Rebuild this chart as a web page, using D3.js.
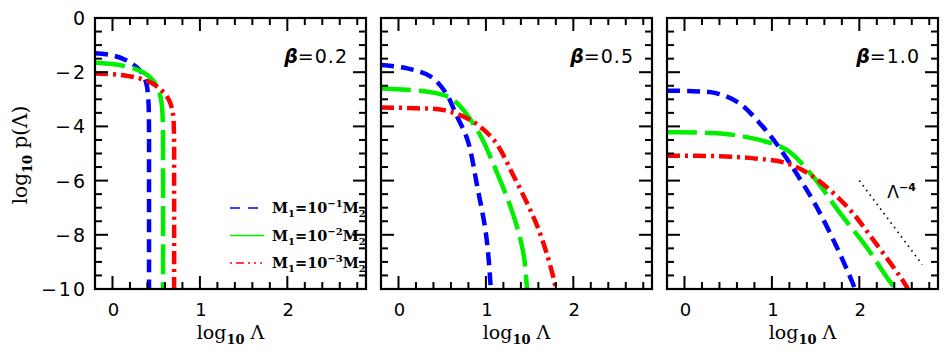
<!DOCTYPE html>
<html>
<head>
<meta charset="utf-8">
<script src="https://cdn.jsdelivr.net/npm/d3@7"></script>
<style>
  body { margin: 0; background: #fff; }
  text { fill: #000; }
</style>
</head>
<body>
<div id="chart"></div>
<script>
// panel labels and tick values
var betas = ['0.2', '0.5', '1.0'];
var xMajor = [0, 1, 2];
var xMinor = [-0.2, 0.2, 0.4, 0.6, 0.8, 1.2, 1.4, 1.6, 1.8, 2.2, 2.4, 2.6, 2.8];
var yMajor = [0, -2, -4, -6, -8, -10];
var yMinor = [-0.5, -1, -1.5, -2.5, -3, -3.5, -4.5, -5, -5.5, -6.5, -7, -7.5, -8.5, -9, -9.5];

// log10 Lambda, log10 p(Lambda)
var blue02 = [[-0.2,-1.3],[0,-1.38],[0.15,-1.55],[0.28,-1.82],[0.35,-2.1],[0.39,-2.45],[0.41,-3.0],[0.417,-3.8],[0.418,-6],[0.418,-10.5]];
var green02 = [[-0.2,-1.65],[0,-1.7],[0.2,-1.82],[0.35,-2.0],[0.45,-2.25],[0.52,-2.6],[0.56,-3.1],[0.575,-3.8],[0.578,-5],[0.578,-10.5]];
var red02 = [[-0.2,-2.05],[0.1,-2.1],[0.3,-2.22],[0.45,-2.4],[0.57,-2.7],[0.65,-3.05],[0.69,-3.5],[0.703,-4.2],[0.705,-6],[0.705,-10.5]];

var blue05 = [[-0.2,-1.73],[0.1,-1.86],[0.37,-2.16],[0.55,-2.8],[0.65,-3.5],[0.79,-4.5],[0.9,-6.2],[1.0,-7.95],[1.05,-9.7],[1.06,-10.5]];
var green05 = [[-0.2,-2.6],[0.1,-2.65],[0.44,-2.78],[0.63,-3.03],[0.9,-4.13],[1.13,-5.73],[1.32,-7.33],[1.43,-8.7],[1.47,-10],[1.48,-10.5]];
var red05 = [[-0.2,-3.3],[0.2,-3.33],[0.52,-3.4],[0.82,-3.76],[1.09,-4.5],[1.32,-5.85],[1.59,-7.7],[1.74,-9.18],[1.8,-10],[1.82,-10.5]];

var blue10 = [[-0.2,-2.68],[0.1,-2.7],[0.37,-2.78],[0.63,-3.15],[0.86,-3.88],[1.05,-4.63],[1.28,-5.73],[1.51,-6.96],[1.74,-8.44],[1.91,-9.67],[1.95,-10]];
var green10 = [[-0.2,-4.22],[0.41,-4.26],[0.86,-4.5],[1.17,-4.87],[1.47,-5.85],[1.78,-7.2],[2.08,-8.44],[2.35,-9.73],[2.42,-10]];
var red10 = [[-0.2,-5.08],[0.4,-5.1],[0.79,-5.18],[1.17,-5.36],[1.47,-5.85],[1.86,-6.96],[2.16,-8.19],[2.54,-9.91],[2.58,-10.2]];

// Lambda^-4 reference slope in the last panel
var slopeLine = [[2.0,-6.0],[2.72,-9.1]];

var series = [
  { exp: '\u22121', color: '#0000ff', dash: '13,7', legendDash: '10,8', data: [blue02, blue05, blue10] },
  { exp: '\u22122', color: '#00ee00', dash: '30,8', legendDash: '34,4', data: [green02, green05, green10] },
  { exp: '\u22123', color: '#ff0000', dash: '13,5,3,5', legendDash: '2,4,8,4,2,4,2,4', data: [red02, red05, red10] }
];

var W = 948, H = 355;
var panelLeft = [95, 381, 667], marginTop = 18, pw = 271, ph = 271;
var sans = '"DejaVu Sans", sans-serif';
var serif = '"DejaVu Serif", serif';

var svg = d3.select('#chart').append('svg')
  .attr('width', W).attr('height', H)
  .style('font-family', sans);

var y = d3.scaleLinear().domain([0, -10]).range([marginTop, marginTop + ph]);

betas.forEach(function(beta, i){
  var x0 = panelLeft[i];
  var x = d3.scaleLinear().domain([-0.2, 2.9]).range([x0, x0 + pw]);
  var g = svg.append('g');

  g.append('clipPath').attr('id', 'clip' + i)
    .append('rect').attr('x', x0).attr('y', marginTop).attr('width', pw).attr('height', ph);

  // x tick labels
  g.append('g').selectAll('text').data(xMajor).join('text')
    .attr('x', function(d){ return x(d) + 1; }).attr('y', marginTop + ph + 27)
    .attr('text-anchor', 'middle').attr('font-size', 18)
    .text(function(d){ return d; });

  if (i === 0) {
    g.append('g').selectAll('text').data(yMajor).join('text')
      .attr('x', x0 - 8).attr('y', function(d){ return y(d) + 7; })
      .attr('text-anchor', 'end').attr('font-size', 19)
      .attr('letter-spacing', 2)
      .text(function(d){ return d === 0 ? '0' : '\u2212' + Math.abs(d); });
  }

  // curves
  var line = d3.line()
    .x(function(d){ return x(d[0]); })
    .y(function(d){ return y(d[1]); })
    .curve(d3.curveCatmullRom.alpha(0.5));

  var curves = g.append('g').attr('clip-path', 'url(#clip' + i + ')');
  series.forEach(function(s){
    curves.append('path')
      .attr('d', line(s.data[i]))
      .attr('fill', 'none')
      .attr('stroke', s.color)
      .attr('stroke-width', 4.5)
      .attr('stroke-dasharray', s.dash);
  });

  if (i === 2) {
    curves.append('path')
      .attr('d', d3.line().x(function(d){ return x(d[0]); }).y(function(d){ return y(d[1]); })(slopeLine))
      .attr('stroke', '#000').attr('stroke-width', 1.6)
      .attr('stroke-dasharray', '1.6,4.2').attr('fill', 'none');
    var lt = g.append('text').attr('x', x(2.32)).attr('y', y(-6.65))
      .attr('font-size', 17);
    lt.append('tspan').text('\u039b');
    lt.append('tspan').attr('dy', -7).attr('font-size', 11).attr('font-weight', 'bold').text('\u22124');
  }

  // frame
  g.append('rect').attr('x', x0).attr('y', marginTop).attr('width', pw).attr('height', ph)
    .attr('fill', 'none').attr('stroke', '#000').attr('stroke-width', 2.2);

  // inward ticks on all four sides, drawn as thin filled rects
  var tk = g.append('g').attr('fill', '#000');
  function xTicks(vals, len){
    tk.selectAll(null).data(vals).join('rect')
      .attr('x', function(d){ return x(d) - 1; }).attr('y', marginTop)
      .attr('width', 2).attr('height', len);
    tk.selectAll(null).data(vals).join('rect')
      .attr('x', function(d){ return x(d) - 1; }).attr('y', marginTop + ph - len)
      .attr('width', 2).attr('height', len);
  }
  function yTicks(vals, len){
    tk.selectAll(null).data(vals).join('rect')
      .attr('x', x0).attr('y', function(d){ return y(d) - 1; })
      .attr('width', len).attr('height', 2);
    tk.selectAll(null).data(vals).join('rect')
      .attr('x', x0 + pw - len).attr('y', function(d){ return y(d) - 1; })
      .attr('width', len).attr('height', 2);
  }
  xTicks(xMajor, 13); xTicks(xMinor, 7);
  yTicks(yMajor, 13); yTicks(yMinor, 7);

  // beta label
  var bl = g.append('text').attr('x', x0 + pw - 18).attr('y', marginTop + 45)
    .attr('text-anchor', 'end').attr('font-size', 19);
  bl.append('tspan').attr('font-style', 'italic').attr('font-weight', 'bold').text('\u03b2');
  bl.append('tspan').attr('letter-spacing', 1).text('=' + beta);

  // x axis title
  var xl = svg.append('text')
    .attr('x', x0 + pw / 2).attr('y', 339)
    .attr('text-anchor', 'middle').attr('font-size', 19)
    .attr('font-family', serif);
  xl.append('tspan').text('log');
  xl.append('tspan').attr('font-size', 13).attr('font-weight', 'bold').attr('dy', 5).text('10');
  xl.append('tspan').attr('dy', -5).text(' \u039b');
});

// y axis title
var yl = svg.append('text')
  .attr('transform', 'translate(27,155) rotate(-90)')
  .attr('text-anchor', 'middle').attr('font-size', 20)
  .attr('font-family', serif);
yl.append('tspan').text('log');
yl.append('tspan').attr('font-size', 13).attr('font-weight', 'bold').attr('dy', 5).text('10');
yl.append('tspan').attr('dy', -5).text(' p(\u039b)');

// legend in first panel
var legend = svg.append('g');
series.forEach(function(s, k){
  var ly = 208 + k * 27.5;
  legend.append('line')
    .attr('x1', 230).attr('x2', 265).attr('y1', ly).attr('y2', ly)
    .attr('stroke', s.color).attr('stroke-width', 1.6)
    .attr('stroke-dasharray', s.legendDash);
  var t = legend.append('text').attr('x', 272).attr('y', ly + 5)
    .attr('font-size', 14.5).attr('font-weight', 'bold')
    .attr('font-family', serif);
  t.append('tspan').text('M');
  t.append('tspan').attr('font-size', 10).attr('dy', 4).text('1');
  t.append('tspan').attr('dy', -4).text('=10');
  t.append('tspan').attr('font-size', 10).attr('dy', -6).text(s.exp);
  t.append('tspan').attr('dy', 6).text('M');
  t.append('tspan').attr('font-size', 10).attr('dy', 4).text('2');
});
</script>
</body>
</html>
